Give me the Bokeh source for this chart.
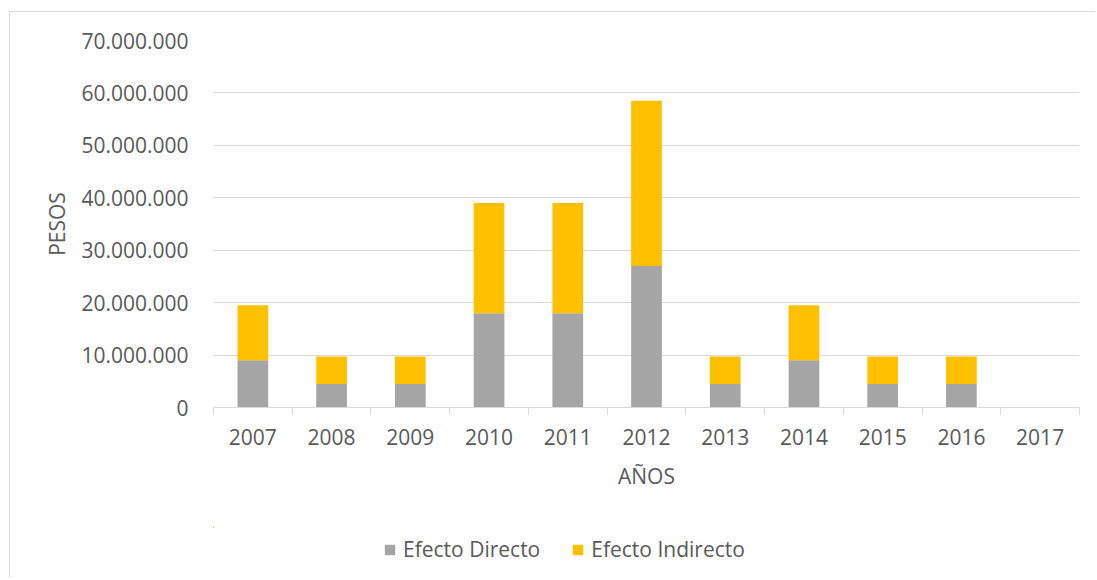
from bokeh.plotting import figure
from bokeh.layouts import column
from bokeh.models import (ColumnDataSource, FixedTicker, CustomJSTickFormatter,
                          Legend, LegendItem, Range1d)
from bokeh.embed import file_html
from bokeh.resources import INLINE

years = ["2007", "2008", "2009", "2010", "2011", "2012", "2013", "2014", "2015", "2016", "2017"]
directo = [9.0e6, 4.5e6, 4.5e6, 18.0e6, 18.0e6, 27.0e6, 4.5e6, 9.0e6, 4.5e6, 4.5e6, 0]
indirecto = [10.5e6, 5.25e6, 5.25e6, 21.0e6, 21.0e6, 31.5e6, 5.25e6, 10.5e6, 5.25e6, 5.25e6, 0]
series_names = ["Efecto Directo", "Efecto Indirecto"]
series_cols = ["directo", "indirecto"]
y_ticks = [0, 10e6, 20e6, 30e6, 40e6, 50e6, 60e6, 70e6]

COLORS = ["#A5A5A5", "#FFC000"]
FONT = "Open Sans"
TXT = "#595959"
GRID = "#D9D9D9"
FS = "21px"

xs = [i + 0.5 for i in range(len(years))]
src = ColumnDataSource(dict(x=xs, directo=directo, indirecto=indirecto))

p = figure(width=1085, height=515, x_range=Range1d(0, len(years)), y_range=Range1d(0, 70e6),
           output_backend="svg", toolbar_location=None,
           min_border_left=203, min_border_right=16, min_border_top=28, min_border_bottom=120)
p.outline_line_color = None

rs = p.vbar_stack(series_cols, x="x", width=0.39, color=COLORS, line_color=None, source=src)

# y axis
p.yaxis.ticker = FixedTicker(ticks=y_ticks)
p.ygrid.ticker = FixedTicker(ticks=y_ticks)
p.yaxis.formatter = CustomJSTickFormatter(code="""
return Math.round(tick).toString().replace(/\\B(?=(\\d{3})+(?!\\d))/g, ".");
""")
p.yaxis.axis_line_color = None
p.yaxis.major_tick_line_color = None
p.yaxis.minor_tick_line_color = None
p.yaxis.major_label_standoff = 19
p.yaxis.axis_label = "PESOS"
p.yaxis.axis_label_standoff = 7
p.ygrid.grid_line_color = GRID
p.ygrid.grid_line_width = 1
p.xgrid.visible = False

# x axis
p.xaxis.ticker = FixedTicker(ticks=xs, minor_ticks=list(range(len(years) + 1)))
p.xaxis.formatter = CustomJSTickFormatter(args=dict(years=years),
                                          code="return years[Math.floor(tick)];")
p.xaxis.axis_line_color = GRID
p.xaxis.major_tick_line_color = None
p.xaxis.minor_tick_line_color = GRID
p.xaxis.minor_tick_in = 0
p.xaxis.minor_tick_out = 7
p.xaxis.major_label_standoff = 14
p.xaxis.axis_label = "AÑOS"
p.xaxis.axis_label_standoff = 14

for ax in (p.xaxis[0], p.yaxis[0]):
    ax.major_label_text_font = FONT
    ax.major_label_text_font_size = FS
    ax.major_label_text_color = TXT
    ax.axis_label_text_font = FONT
    ax.axis_label_text_font_size = FS
    ax.axis_label_text_color = TXT
    ax.axis_label_text_font_style = "normal"

# legend strip below the chart (its renderers lie far outside its visible ranges)
p2 = figure(width=1085, height=50, x_range=Range1d(1000, 1011), y_range=Range1d(-2e9, -1e9),
            output_backend="svg", toolbar_location=None,
            x_axis_location=None, y_axis_location=None,
            min_border_left=0, min_border_right=0, min_border_top=0, min_border_bottom=0)
p2.outline_line_color = None
p2.grid.visible = False
lr = [p2.vbar(x="x", top=col, width=0.39, color=c, line_color=None, source=src)
      for col, c in zip(series_cols, COLORS)]

legend = Legend(items=[LegendItem(label=n, renderers=[r]) for n, r in zip(series_names, lr)],
                orientation="horizontal", location=(170, 14),
                glyph_width=13, glyph_height=13, label_standoff=7, spacing=31,
                padding=0, margin=0, border_line_color=None, background_fill_alpha=0,
                label_text_font=FONT, label_text_font_size=FS, label_text_color=TXT)
p2.add_layout(legend, "center")

layout = column(p, p2, spacing=0)
layout.margin = (11, 0, 0, 9)
layout.styles = {"border-top": "1px solid #D9D9D9", "border-left": "1px solid #D9D9D9"}

open("out.html", "w").write(file_html(layout, INLINE))
